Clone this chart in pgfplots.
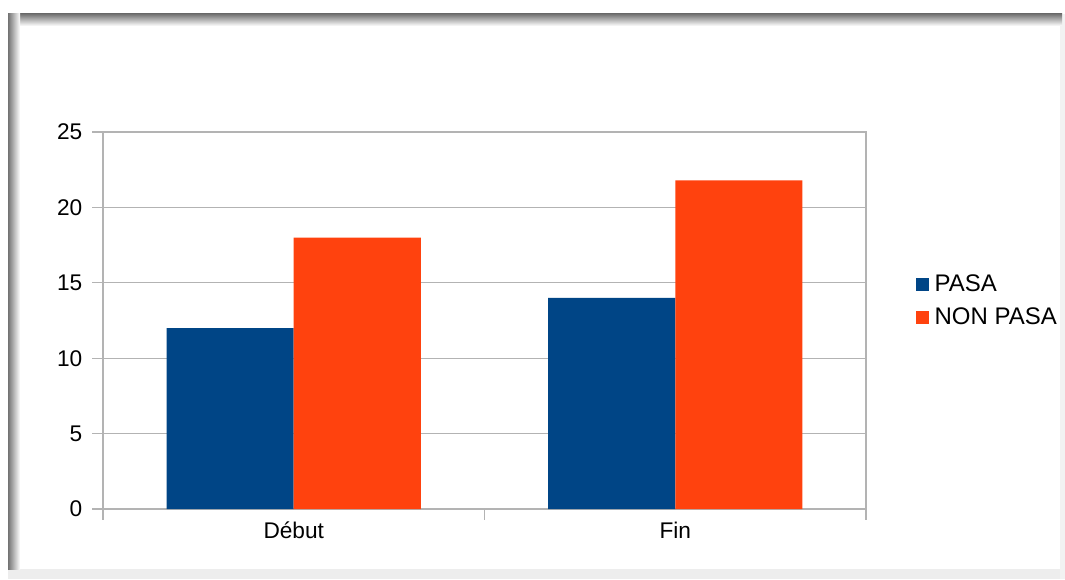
\documentclass[border=0pt]{standalone}
\usepackage{fontspec}
\setmainfont{Liberation Sans}
\usepackage{pgfplots}
\pgfplotsset{compat=1.18}
\definecolor{pasa}{HTML}{004586}
\definecolor{nonpasa}{HTML}{FF420E}
\definecolor{axgray}{HTML}{B3B3B3}
\begin{document}
\begin{tikzpicture}[x=0.75pt,y=0.75pt]
\fill[white] (0,0) rectangle (1065,579);
% frame with shadow
\fill[black!7] (8,0) rectangle (1065,10);
\fill[black!5] (1060,0) rectangle (1065,565);
\shade[top color=black!55, bottom color=white] (8,565) rectangle (1062,553);
\shade[left color=black!55, right color=white] (8,10) rectangle (20,565);
\begin{axis}[
  at={(77.25pt,52.5pt)}, anchor=south west,
  scale only axis, width=572.25pt, height=282.75pt,
  xmin=-0.5, xmax=1.5, ymin=0, ymax=25,
  ytick={0,5,10,15,20,25},
  xtick={-0.5,0.5,1.5}, xticklabels={},
  extra x ticks={0,1}, extra x tick labels={Début,Fin},
  extra x tick style={major tick length=0pt, xticklabel style={yshift=-6pt}},
  tick align=outside, major tick length=8pt,
  xtick pos=bottom, ytick pos=left,
  ymajorgrids, grid style={axgray, line width=1pt},
  axis line style={axgray, line width=1pt},
  tick style={axgray, line width=1pt},
  /pgf/number format/assume math mode=true,
  tick label style={font=\fontsize{17}{20}\selectfont, text=black},
  yticklabel style={xshift=-4pt},
  legend style={at={(1.065,0.552)}, anchor=west, draw=none, fill=none,
    font=\fontsize{18}{21}\selectfont, row sep=7pt, inner sep=0pt,
    nodes={inner sep=2pt}},
  legend cell align=left,
  legend image code/.code={\fill[#1] (0pt,-5pt) rectangle (10pt,5pt); \path (12pt,0pt);},
]
\addplot[ybar, bar width=95.25pt, bar shift=-47.625pt, fill=pasa, draw=none] coordinates {(0,12) (1,14)};
\addplot[ybar, bar width=95.25pt, bar shift=47.625pt, fill=nonpasa, draw=none] coordinates {(0,18) (1,21.8)};
\legend{PASA,NON PASA}
\end{axis}
\end{tikzpicture}
\end{document}
